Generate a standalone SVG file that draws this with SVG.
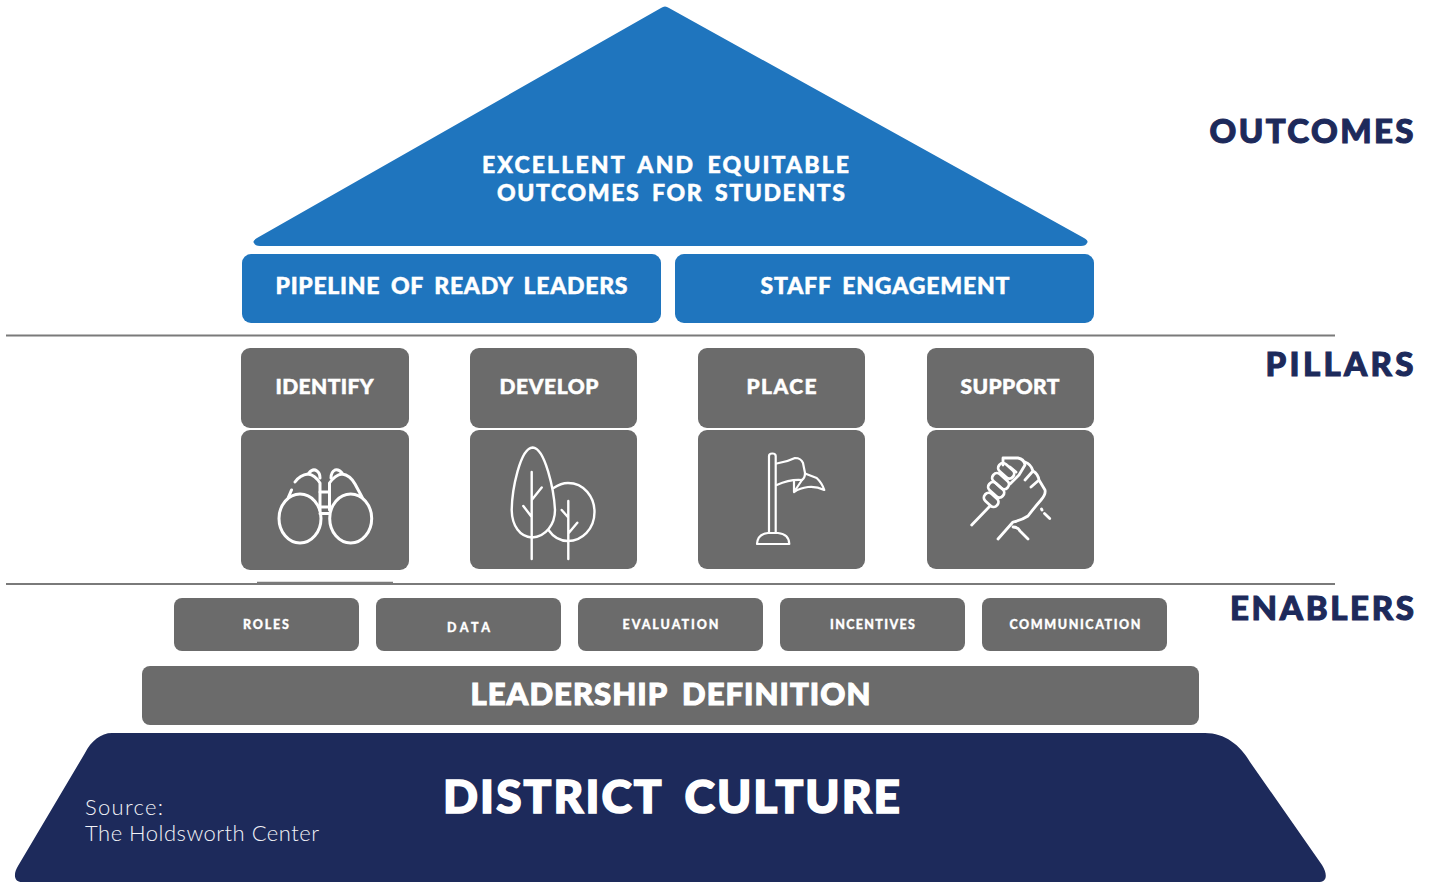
<svg xmlns="http://www.w3.org/2000/svg" width="1430" height="882" viewBox="0 0 1430 882">
<style>
text{font-family:"Lato","Inter","Liberation Sans",sans-serif;font-weight:900;fill:#fff;word-spacing:.2em;stroke:#fff;stroke-width:.5px}
.side{fill:#1d2a5b;stroke:#1d2a5b;stroke-width:1.100px;font-size:33px}
.blue{fill:#1f75be}
.grey{fill:#6b6b6b}
.navy{fill:#1d2a5b}
.b{font-size:23px}
.p{font-size:21px}
.e{font-size:12.500px;stroke-width:.3px}
.big{stroke-width:1.100px}
.src{font-weight:300;font-size:22px;fill:#f2f3f7;stroke:none;word-spacing:0}
.ic{fill:none;stroke:#fff;stroke-width:3;stroke-linecap:round;stroke-linejoin:round}
.ln{stroke:#7a7a7a;stroke-width:2;fill:none}
</style>
<g id="connectors">
<path class="ln" d="M6 335.500H1335"/>
<path class="ln" d="M6 584H1335"/>
<path d="M257 582.500H393" stroke="#7a7a7a" stroke-width="1.500" fill="none"/>
</g>
<g id="outcomes-roof">
<path class="blue" d="M661 8Q665 5 669 8L1084 238Q1089 241 1087 243Q1086 246 1081 246H260Q255 246 254 243Q252 241 257 238Z"/>
<text class="b" x="482" y="172.500" textLength="367">EXCELLENT AND EQUITABLE</text>
<text class="b" x="497" y="200.500" textLength="348">OUTCOMES FOR STUDENTS</text>
</g>
<g id="pipeline">
<rect class="blue" x="242" y="254" width="419" height="69" rx="9"/>
<text class="b" x="275.500" y="294" textLength="352">PIPELINE OF READY LEADERS</text>
</g>
<g id="staff">
<rect class="blue" x="675" y="254" width="419" height="69" rx="9"/>
<text class="b" x="760.500" y="294" textLength="249">STAFF ENGAGEMENT</text>
</g>
<g id="identify">
<rect class="grey" x="241" y="348" width="168" height="80" rx="9"/>
<rect class="grey" x="241" y="430" width="168" height="140" rx="9"/>
<text class="p" x="275.500" y="394" textLength="98">IDENTIFY</text>
<g class="ic">
<ellipse cx="300" cy="518.500" rx="21" ry="24.500"/>
<ellipse cx="350.700" cy="518.500" rx="21" ry="24.500"/>
<path d="M288.500 497L291.500 490M295 482Q300 475 308 474Q315 475 320 483V510"/>
<path d="M309 473Q313 468 317 471Q320 473 320 478"/>
<path d="M362 497L355 484Q350 475 342 474Q335 475 329.500 483V510"/>
<path d="M331 478Q331 472 335 470Q339 469 342 473"/>
<path d="M320 492H329.500M320 507H329.500M320 513.500H329.500"/>
</g>
</g>
<g id="develop">
<rect class="grey" x="470" y="348" width="167" height="80" rx="9"/>
<rect class="grey" x="470" y="430" width="167" height="139" rx="9"/>
<text class="p" x="499.500" y="394" textLength="99">DEVELOP</text>
<g class="ic" style="stroke-width:2.400">
<path d="M532.700 447.500C520 448 512 490 511.700 510C512 526 520 537 532 537.500C546 537 555 524 555 510C554 490 545 448 532.700 447.500Z"/>
<path d="M553.500 488Q561 483 568 483C584 483 594.500 497 594.500 512C594.500 529 582 541 568 541Q556 541 548.500 530"/>
<path d="M531.700 472V559M531.700 500L541.700 487.500M531.700 517L523.300 506M568.300 501V559M568.300 517.500L561.700 510M568.300 533.500L577.300 522.700"/>
</g>
</g>
<g id="place">
<rect class="grey" x="698" y="348" width="167" height="80" rx="9"/>
<rect class="grey" x="698" y="430" width="167" height="139" rx="9"/>
<text class="p" x="746.500" y="394" textLength="70">PLACE</text>
<g class="ic" style="stroke-width:2.200">
<path d="M769 533V456Q769 453.500 772.300 453.500Q775.700 453.500 775.700 456V533"/>
<path d="M757 544H789.300Q789 534 778 533H768Q757.500 534 757 544Z"/>
<path d="M776.700 463.500Q787 462 795 458Q801 458 803 463L805 473Q805 478 802 480Q790 479 776.700 485"/>
<path d="M805 473.500L816.700 478Q822 483 824.300 490Q816 486 808 487Q800 488 794 492V481.500M802 480L794 492"/>
</g>
</g>
<g id="support">
<rect class="grey" x="927" y="348" width="167" height="80" rx="9"/>
<rect class="grey" x="927" y="430" width="167" height="139" rx="9"/>
<text class="p" x="960.500" y="394" textLength="99">SUPPORT</text>
<g class="ic" style="stroke-width:2.800">
<path d="M971.700 525L990 506"/>
<rect x="983" y="495" width="16" height="9.500" rx="4.500" transform="rotate(42 991 500)"/>
<rect x="987" y="485" width="18" height="9.500" rx="4.500" transform="rotate(42 996 490)"/>
<rect x="991" y="476" width="19" height="9.500" rx="4.500" transform="rotate(42 1000 481)"/>
<rect x="997" y="466" width="18" height="9.500" rx="4.500" transform="rotate(42 1006 471)"/>
<path d="M1003 465V458H1018Q1024 459 1025 465L1019 475L1010 484M1010 467L1016 472"/>
<path d="M1025 462Q1031 464 1033 471L1025 480M1033 471Q1038 474 1039 480L1031 487M1039 480L1045 490Q1046 494 1041 500Q1034 508 1028 516Q1022 520 1013 522L998 539"/>
<path d="M1013 527Q1018 527 1020 531L1028 539"/>
<path d="M1041.500 509L1042 510M1044.500 513.500L1049.700 518.500"/>
</g>
</g>
<g id="roles">
<rect class="grey" x="174" y="598" width="185" height="53" rx="8"/>
<text class="e" x="243" y="629" textLength="46">ROLES</text>
</g>
<g id="data">
<rect class="grey" x="376" y="598" width="185" height="53" rx="8"/>
<text class="e" x="447" y="632" textLength="43">DATA</text>
</g>
<g id="evaluation">
<rect class="grey" x="578" y="598" width="185" height="53" rx="8"/>
<text class="e" x="622.500" y="629" textLength="96">EVALUATION</text>
</g>
<g id="incentives">
<rect class="grey" x="780" y="598" width="185" height="53" rx="8"/>
<text class="e" x="830" y="629" textLength="85">INCENTIVES</text>
</g>
<g id="communication">
<rect class="grey" x="982" y="598" width="185" height="53" rx="8"/>
<text class="e" x="1009.500" y="629" textLength="131">COMMUNICATION</text>
</g>
<g id="leadership">
<rect class="grey" x="142" y="666" width="1057" height="59" rx="8"/>
<text class="big" x="470.500" y="705" font-size="31" textLength="400">LEADERSHIP DEFINITION</text>
</g>
<g id="culture">
<path class="navy" d="M112 733H1205C1225 733 1240 745 1250 762L1322 865C1328 875 1327 882 1318 882H22C14 882 13 874 18 866L85 753C91 741 101 733 112 733Z"/>
<text class="big" style="stroke-width:1.600px" x="443" y="813" font-size="46" textLength="457">DISTRICT CULTURE</text>
<text class="src" x="85" y="815" textLength="78">Source:</text>
<text class="src" x="85" y="841" textLength="234">The Holdsworth Center</text>
</g>
<g id="labels">
<text class="side" x="1209.500" y="143" textLength="204">OUTCOMES</text>
<text class="side" x="1265.500" y="376" textLength="148">PILLARS</text>
<text class="side" x="1230" y="620" textLength="184">ENABLERS</text>
</g>
</svg>
